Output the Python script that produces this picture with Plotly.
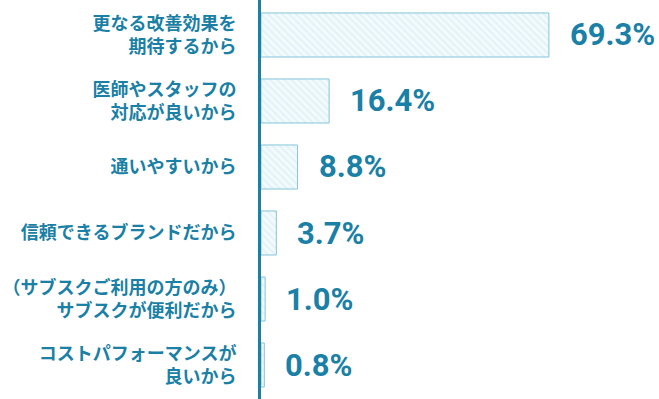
import plotly.graph_objects as go

categories = [
    "更なる改善効果を<br>期待するから",
    "医師やスタッフの<br>対応が良いから",
    "通いやすいから",
    "信頼できるブランドだから",
    "（サブスクご利用の方のみ）<br>サブスクが便利だから",
    "コストパフォーマンスが<br>良いから",
]
values = [69.3, 16.4, 8.8, 3.7, 1.0, 0.8]
value_labels = ["69.3%", "16.4%", "8.8%", "3.7%", "1.0%", "0.8%"]

TEAL = "#1b80a5"

fig = go.Figure(go.Bar(
    y=categories,
    x=values,
    orientation="h",
    width=0.667,
    marker=dict(
        color="#ffffff",
        line=dict(color="#84c5da", width=1),
        pattern=dict(shape="\\", fgcolor="#cdeaf3", bgcolor="#f3fafc", size=5, solidity=0.35),
    ),
    hoverinfo="skip",
))

for c, v, t in zip(categories, values, value_labels):
    fig.add_annotation(
        x=v, y=c, text=t, showarrow=False,
        xanchor="left", yanchor="middle", xshift=19,
        font=dict(family="Roboto", size=31, color=TEAL, weight="bold"),
    )

fig.update_layout(
    width=659, height=399,
    margin=dict(l=261, r=0, t=0, b=0, autoexpand=False),
    paper_bgcolor="#ffffff",
    plot_bgcolor="#ffffff",
    showlegend=False,
    xaxis=dict(range=[0, 95.8], visible=False, fixedrange=True, automargin=False),
    yaxis=dict(
        range=[5.515, -0.530],
        automargin=False,
        showline=True, linewidth=3, linecolor=TEAL,
        showgrid=False, zeroline=False,
        ticks="", ticklabelstandoff=18,
        tickfont=dict(family="Noto Sans CJK JP", size=18, color=TEAL, weight="bold"),
    ),
)

fig.write_html(
    "out.html",
    config={"displayModeBar": False},
    post_script="document.body.style.margin='0';document.body.style.overflow='hidden';",
)
